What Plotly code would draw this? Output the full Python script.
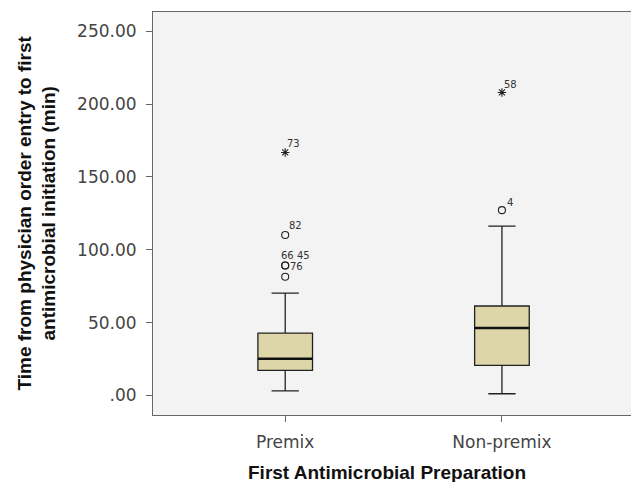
import plotly.graph_objects as go

# ---- data ----
categories = ["Premix", "Non-premix"]
q1 = [17.2, 20.6]
median = [25.2, 46.3]
q3 = [42.8, 61.4]
lower_whisker = [3.2, 1.2]
upper_whisker = [70.3, 116.2]

# mild outliers (circles) and extreme outliers (stars), with case ids
premix_out = [110.1, 89.2, 89.2, 81.5]
premix_out_ids = ["82", "66", "45", "76"]
premix_ext = [166.8]
premix_ext_ids = ["73"]
nonpremix_out = [127.2]
nonpremix_out_ids = ["4"]
nonpremix_ext = [208.0]
nonpremix_ext_ids = ["58"]

y_tickvals = [0, 50, 100, 150, 200, 250]
y_ticktext = [".00", "50.00", "100.00", "150.00", "200.00", "250.00"]

# ---- style ----
BOX_W = 0.252
FILL = "#ddd6a8"
DARK = "#222222"
FRAME = "#666666"
TICKFONT = dict(family="DejaVu Sans", size=17, color="#444444")
TITLEFONT = dict(family="Liberation Sans", size=19, color="#111111")
LABELFONT = dict(family="DejaVu Sans", size=10, color="#333333")

xpos = list(range(len(categories)))

fig = go.Figure()
for i, name in enumerate(categories):
    fig.add_trace(go.Box(
        x=[xpos[i]], q1=[q1[i]], median=[median[i]], q3=[q3[i]],
        lowerfence=[lower_whisker[i]], upperfence=[upper_whisker[i]],
        width=BOX_W, whiskerwidth=0.5, fillcolor=FILL,
        line=dict(color=DARK, width=1.3), name=name, showlegend=False,
        hoverinfo="skip"))
    # thicker median line
    fig.add_trace(go.Scatter(
        x=[xpos[i] - BOX_W / 2, xpos[i] + BOX_W / 2], y=[median[i], median[i]],
        mode="lines", line=dict(color="#111111", width=2.4), showlegend=False,
        hoverinfo="skip"))

outs = [premix_out, nonpremix_out]
exts = [premix_ext, nonpremix_ext]
for i in range(len(categories)):
    fig.add_trace(go.Scatter(
        x=[xpos[i]] * len(outs[i]), y=outs[i], mode="markers",
        marker=dict(symbol="circle-open", size=7, color=DARK, line=dict(width=1.1)),
        showlegend=False, hoverinfo="skip"))
    fig.add_trace(go.Scatter(
        x=[xpos[i]] * len(exts[i]), y=exts[i], mode="markers",
        marker=dict(symbol="asterisk-open", size=7, color=DARK, line=dict(width=1.1)),
        showlegend=False, hoverinfo="skip"))

# case-id labels
labels = [
    (0, premix_ext[0], premix_ext_ids[0], 8, 9),
    (0, premix_out[0], premix_out_ids[0], 10, 10),
    (0, premix_out[1], premix_out_ids[1] + " " + premix_out_ids[2], 10, 10),
    (0, premix_out[1], premix_out_ids[3], 11, -1),
    (1, nonpremix_ext[0], nonpremix_ext_ids[0], 9, 8),
    (1, nonpremix_out[0], nonpremix_out_ids[0], 8, 8),
]
for xi, yv, txt, dx, dy in labels:
    fig.add_annotation(x=xpos[xi], y=yv, text=txt, showarrow=False,
                       xshift=dx, yshift=dy, font=LABELFONT)

fig.add_annotation(text="<b>First Antimicrobial Preparation</b>", xref="paper", yref="paper",
                   x=0.4815, y=0, yanchor="middle", xanchor="center", yshift=-57,
                   showarrow=False, font=TITLEFONT)
fig.add_annotation(text="<b>Time from physician order entry to first<br>antimicrobial initiation (min)</b>",
                   xref="paper", yref="paper", x=0, xanchor="center", xshift=-117,
                   y=0.5, yanchor="middle", textangle=-90,
                   showarrow=False, font=TITLEFONT)

fig.update_layout(
    width=640, height=482,
    margin=dict(l=153, r=0, t=12, b=67),
    paper_bgcolor="white", plot_bgcolor="#f3f3f3",
    xaxis=dict(range=[-0.61, 1.637], tickvals=xpos, ticktext=categories,
               showgrid=False, zeroline=False, showline=True, linecolor=FRAME,
               linewidth=1, mirror=True, ticks="outside", ticklen=6, tickcolor=FRAME,
               tickfont=TICKFONT, ticklabelstandoff=6),
    yaxis=dict(range=[-13.4, 263.2], tickvals=y_tickvals, ticktext=y_ticktext,
               showgrid=False, zeroline=False, showline=True, linecolor=FRAME,
               linewidth=1, ticks="outside", ticklen=6, tickcolor=FRAME,
               tickfont=TICKFONT, ticklabelstandoff=6),
)

fig.write_html("out.html", config={"displayModeBar": False},
               post_script="document.body.style.margin='0';document.body.style.overflow='hidden';")
